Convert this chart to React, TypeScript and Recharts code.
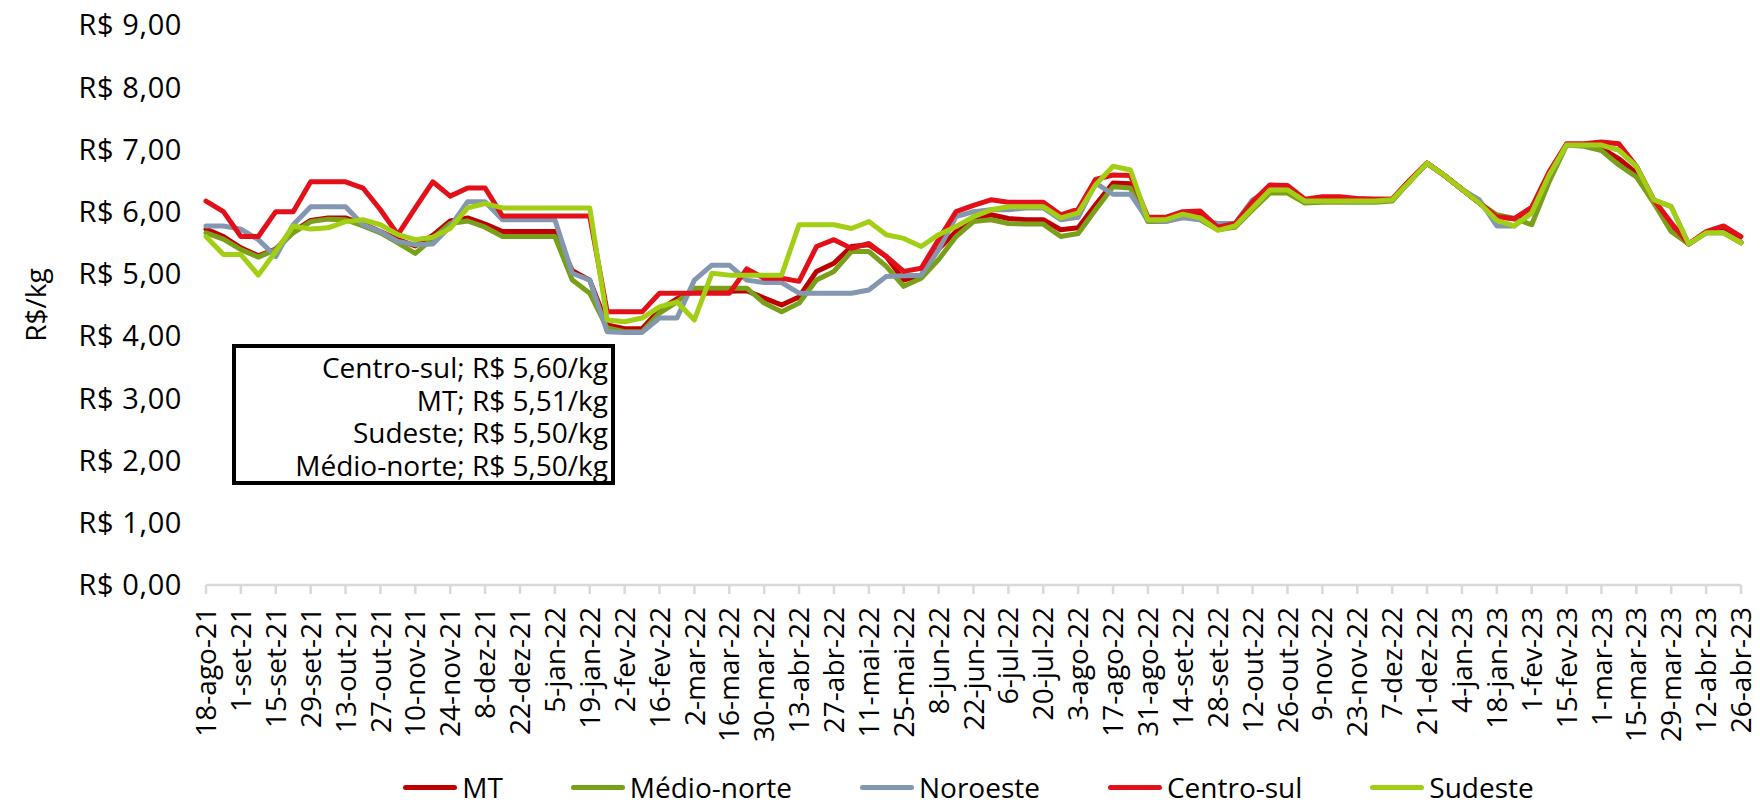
import React from 'react'
import { Line, LineChart, XAxis, YAxis } from 'recharts'

// semanas (quarta-feira) de 18-ago-21 a 26-abr-23
const weeks = [
  '18-ago-21', '25-ago-21', '1-set-21', '8-set-21', '15-set-21', '22-set-21', '29-set-21', '6-out-21',
  '13-out-21', '20-out-21', '27-out-21', '3-nov-21', '10-nov-21', '17-nov-21', '24-nov-21', '1-dez-21',
  '8-dez-21', '15-dez-21', '22-dez-21', '29-dez-21', '5-jan-22', '12-jan-22', '19-jan-22', '26-jan-22',
  '2-fev-22', '9-fev-22', '16-fev-22', '23-fev-22', '2-mar-22', '9-mar-22', '16-mar-22', '23-mar-22',
  '30-mar-22', '6-abr-22', '13-abr-22', '20-abr-22', '27-abr-22', '4-mai-22', '11-mai-22', '18-mai-22',
  '25-mai-22', '1-jun-22', '8-jun-22', '15-jun-22', '22-jun-22', '29-jun-22', '6-jul-22', '13-jul-22',
  '20-jul-22', '27-jul-22', '3-ago-22', '10-ago-22', '17-ago-22', '24-ago-22', '31-ago-22', '7-set-22',
  '14-set-22', '21-set-22', '28-set-22', '5-out-22', '12-out-22', '19-out-22', '26-out-22', '2-nov-22',
  '9-nov-22', '16-nov-22', '23-nov-22', '30-nov-22', '7-dez-22', '14-dez-22', '21-dez-22', '28-dez-22',
  '4-jan-23', '11-jan-23', '18-jan-23', '25-jan-23', '1-fev-23', '8-fev-23', '15-fev-23', '22-fev-23',
  '1-mar-23', '8-mar-23', '15-mar-23', '22-mar-23', '29-mar-23', '5-abr-23', '12-abr-23', '19-abr-23',
  '26-abr-23',
]

const mt = [
  5.72, 5.6, 5.42, 5.29, 5.4, 5.68, 5.86, 5.9, 5.9, 5.8, 5.68, 5.55, 5.45, 5.62, 5.85, 5.9,
  5.8, 5.68, 5.68, 5.68, 5.68, 5.05, 4.9, 4.18, 4.12, 4.12, 4.42, 4.6, 4.72, 4.72, 4.72, 4.73,
  4.61, 4.5, 4.63, 5.04, 5.17, 5.44, 5.47, 5.28, 4.9, 4.98, 5.4, 5.68, 5.89, 5.95, 5.89, 5.87,
  5.87, 5.71, 5.74, 6.11, 6.46, 6.45, 5.87, 5.87, 5.97, 5.98, 5.75, 5.79, 6.11, 6.4, 6.4, 6.18,
  6.2, 6.2, 6.2, 6.2, 6.2, 6.5, 6.78, 6.58, 6.36, 6.14, 5.93, 5.88, 6.02, 6.55, 7.08, 7.07,
  7.02, 6.85, 6.62, 6.15, 5.75, 5.48, 5.67, 5.72, 5.51,
]

const medioNorte = [
  5.66, 5.56, 5.39, 5.27, 5.39, 5.66, 5.84, 5.88, 5.87, 5.77, 5.66, 5.5, 5.33, 5.57, 5.81, 5.85,
  5.75, 5.6, 5.6, 5.6, 5.6, 4.9, 4.69, 4.13, 4.07, 4.07, 4.37, 4.55, 4.77, 4.77, 4.77, 4.77,
  4.53, 4.39, 4.53, 4.9, 5.04, 5.36, 5.36, 5.12, 4.8, 4.93, 5.23, 5.6, 5.84, 5.87, 5.81, 5.8,
  5.8, 5.6, 5.65, 6.03, 6.4, 6.38, 5.84, 5.84, 5.92, 5.87, 5.71, 5.75, 6.03, 6.3, 6.3, 6.14,
  6.15, 6.15, 6.15, 6.15, 6.17, 6.48, 6.78, 6.58, 6.36, 6.14, 5.95, 5.89, 5.79, 6.48, 7.07, 7.05,
  6.98, 6.75, 6.56, 6.14, 5.68, 5.48, 5.66, 5.66, 5.5,
]

const noroeste = [
  5.77, 5.77, 5.72, 5.55, 5.28, 5.79, 6.08, 6.08, 6.08, 5.79, 5.68, 5.52, 5.47, 5.48, 5.76, 6.16,
  6.16, 5.87, 5.87, 5.87, 5.87, 5.01, 4.9, 4.07, 4.06, 4.06, 4.29, 4.29, 4.9, 5.14, 5.14, 4.9,
  4.86, 4.86, 4.69, 4.69, 4.69, 4.69, 4.74, 4.96, 4.97, 4.98, 5.39, 5.92, 6.0, 6.03, 6.03, 6.06,
  6.06, 5.87, 5.91, 6.46, 6.28, 6.28, 5.87, 5.84, 5.9, 5.87, 5.81, 5.81, 6.19, 6.36, 6.36, 6.17,
  6.17, 6.17, 6.17, 6.17, 6.19, 6.48, 6.78, 6.58, 6.36, 6.19, 5.77, 5.77, 5.98, 6.59, 7.07, 7.07,
  7.07, 6.99, 6.73, 6.19, 6.08, 5.48, 5.66, 5.66, 5.5,
]

const centroSul = [
  6.17, 6.0, 5.6, 5.6, 6.0, 6.0, 6.48, 6.48, 6.48, 6.38, 6.03, 5.63, 6.06, 6.48, 6.25, 6.38,
  6.38, 5.93, 5.93, 5.93, 5.93, 5.93, 5.93, 4.39, 4.39, 4.39, 4.69, 4.69, 4.69, 4.69, 4.69, 5.08,
  4.93, 4.93, 4.88, 5.44, 5.55, 5.41, 5.49, 5.28, 5.04, 5.09, 5.55, 6.0, 6.1, 6.19, 6.15, 6.15,
  6.15, 5.95, 6.04, 6.52, 6.59, 6.58, 5.91, 5.91, 6.0, 6.01, 5.75, 5.81, 6.16, 6.43, 6.42, 6.2,
  6.24, 6.24, 6.21, 6.2, 6.2, 6.5, 6.78, 6.58, 6.36, 6.14, 5.92, 5.89, 6.07, 6.64, 7.09, 7.09,
  7.12, 7.09, 6.73, 6.19, 5.82, 5.48, 5.68, 5.77, 5.6,
]

const sudeste = [
  5.6, 5.31, 5.31, 4.98, 5.36, 5.77, 5.72, 5.74, 5.84, 5.87, 5.79, 5.63, 5.55, 5.59, 5.73, 6.06,
  6.13, 6.06, 6.06, 6.06, 6.06, 6.06, 6.06, 4.26, 4.23, 4.29, 4.47, 4.55, 4.26, 5.01, 4.98, 4.98,
  4.98, 4.98, 5.79, 5.79, 5.79, 5.73, 5.84, 5.63, 5.57, 5.44, 5.63, 5.76, 5.92, 6.03, 6.08, 6.08,
  6.08, 5.9, 5.98, 6.43, 6.73, 6.67, 5.87, 5.87, 5.96, 5.9, 5.7, 5.77, 6.06, 6.35, 6.35, 6.17,
  6.17, 6.17, 6.17, 6.17, 6.19, 6.48, 6.78, 6.58, 6.36, 6.14, 5.86, 5.77, 5.98, 6.59, 7.07, 7.07,
  7.07, 6.99, 6.73, 6.19, 6.08, 5.48, 5.66, 5.66, 5.5,
]

const yTicks = [0, 1, 2, 3, 4, 5, 6, 7, 8, 9]

// último preço de cada região (caixa de destaque)
const lastPrices = [
  'Centro-sul; R$ 5,60/kg',
  'MT; R$ 5,51/kg',
  'Sudeste; R$ 5,50/kg',
  'Médio-norte; R$ 5,50/kg',
]

const SERIES = [
  { key: 'mt', name: 'MT', color: '#C00000', values: mt },
  { key: 'medioNorte', name: 'Médio-norte', color: '#78A019', values: medioNorte },
  { key: 'noroeste', name: 'Noroeste', color: '#8497B0', values: noroeste },
  { key: 'centroSul', name: 'Centro-sul', color: '#E3101A', values: centroSul },
  { key: 'sudeste', name: 'Sudeste', color: '#A2CE14', values: sudeste },
]

const data = weeks.map((w, i) => {
  const row: Record<string, string | number> = { week: w }
  SERIES.forEach((s) => {
    row[s.key] = s.values[i]
  })
  return row
})

const FONT = "'Open Sans', sans-serif"

const brl = (v: number) => `R$ ${v.toFixed(2).replace('.', ',')}`

function WeekTick({ x, y, payload }: { x?: number; y?: number; payload?: { value: string } }) {
  return (
    <g transform={`translate(${x},${y})`}>
      <text
        transform="rotate(-90)"
        x={-11}
        y={0}
        dy="0.36em"
        textAnchor="end"
        fill="#000"
        fontSize={28}
        fontFamily={FONT}
      >
        {payload?.value}
      </text>
    </g>
  )
}

export default function App() {
  return (
    <div
      style={{
        position: 'absolute',
        left: 0,
        top: 0,
        width: 1760,
        height: 809,
        overflow: 'hidden',
        background: '#fff',
        fontFamily: FONT,
      }}
    >
      <LineChart
        width={1760}
        height={809}
        data={data}
        margin={{ top: 25, right: 19, left: 0, bottom: 0 }}
      >
        <XAxis
          dataKey="week"
          interval={1}
          height={224}
          tickSize={9}
          tickMargin={2}
          tick={<WeekTick />}
          axisLine={{ stroke: '#D9D9D9', strokeWidth: 2.5 }}
          tickLine={{ stroke: '#D9D9D9', strokeWidth: 2.5 }}
        />
        <YAxis
          domain={[0, 9]}
          ticks={yTicks}
          width={206}
          axisLine={false}
          tickLine={false}
          tickSize={0}
          tickMargin={24}
          tickFormatter={brl}
          tick={{ fill: '#000', fontSize: 29, fontFamily: FONT, letterSpacing: 0.6 }}
          label={({ viewBox }: { viewBox?: { x: number; y: number; height: number } }) => {
            const cx = (viewBox?.x ?? 0) + 36
            const cy = (viewBox?.y ?? 0) + (viewBox?.height ?? 0) / 2
            return (
              <text
                x={cx}
                y={cy}
                transform={`rotate(-90, ${cx}, ${cy})`}
                textAnchor="middle"
                dy="0.36em"
                fill="#000"
                fontSize={28}
                fontFamily={FONT}
              >
                R$/kg
              </text>
            )
          }}
        />
        {SERIES.map((s) => (
          <Line
            key={s.key}
            type="linear"
            dataKey={s.key}
            name={s.name}
            stroke={s.color}
            strokeWidth={5}
            strokeLinejoin="round"
            strokeLinecap="round"
            dot={false}
            activeDot={false}
            isAnimationActive={false}
          />
        ))}
      </LineChart>

      {/* caixa com os últimos preços */}
      <div
        style={{
          position: 'absolute',
          left: 232,
          top: 344,
          width: 383,
          height: 141,
          boxSizing: 'border-box',
          border: '4px solid #000',
          background: '#fff',
          padding: '3px 3px 0 0',
          textAlign: 'right',
          fontSize: 28,
          lineHeight: '32.5px',
          color: '#000',
        }}
      >
        {lastPrices.map((t) => (
          <div key={t} style={{ height: 32.5 }}>
            {t}
          </div>
        ))}
      </div>

      {/* legenda */}
      <div
        style={{
          position: 'absolute',
          left: 0,
          top: 772,
          width: 1937,
          height: 30,
          display: 'flex',
          justifyContent: 'center',
          gap: 68,
          fontSize: 28,
          lineHeight: '30px',
          color: '#000',
        }}
      >
        {SERIES.map((s) => (
          <div key={s.key} style={{ display: 'flex', alignItems: 'center', gap: 5 }}>
            <span
              style={{
                display: 'inline-block',
                width: 54,
                height: 5,
                borderRadius: 3,
                background: s.color,
              }}
            />
            <span>{s.name}</span>
          </div>
        ))}
      </div>
    </div>
  )
}
